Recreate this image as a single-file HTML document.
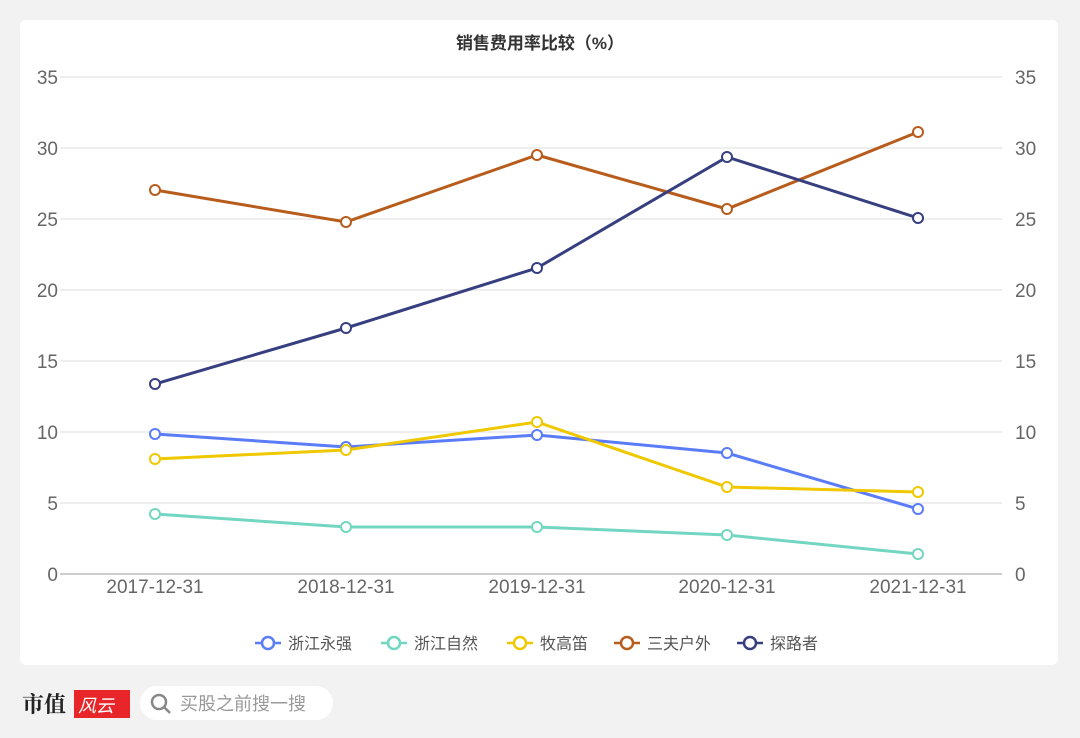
<!DOCTYPE html>
<html><head><meta charset="utf-8"><style>
html,body{margin:0;padding:0;width:1080px;height:738px;background:#f2f2f2;overflow:hidden;font-family:"Liberation Sans","Noto Sans CJK SC",sans-serif;}
</style></head><body>
<svg width="1080" height="738" xmlns="http://www.w3.org/2000/svg" font-family="Liberation Sans, Noto Sans CJK SC, sans-serif">
<rect x="0" y="0" width="1080" height="738" fill="#f2f2f2"/>
<rect x="20" y="20" width="1038" height="645" rx="6" fill="#fff"/>
<text x="540" y="49" text-anchor="middle" font-size="17" fill="#333" font-weight="bold">销售费用率比较（%）</text>
<g stroke="#e8e8e8" stroke-width="1.5">
<line x1="60" x2="1002" y1="77" y2="77"/><line x1="60" x2="1002" y1="148" y2="148"/>
<line x1="60" x2="1002" y1="219" y2="219"/><line x1="60" x2="1002" y1="290" y2="290"/>
<line x1="60" x2="1002" y1="361" y2="361"/><line x1="60" x2="1002" y1="432" y2="432"/>
<line x1="60" x2="1002" y1="503" y2="503"/>
</g>
<line x1="60" x2="1002" y1="574" y2="574" stroke="#ccc" stroke-width="2"/>
<g font-size="19" fill="#666">
<g text-anchor="end">
<text x="58" y="84">35</text><text x="58" y="155">30</text><text x="58" y="226">25</text><text x="58" y="297">20</text><text x="58" y="368">15</text><text x="58" y="439">10</text><text x="58" y="510">5</text><text x="58" y="581">0</text>
</g>
<g text-anchor="start">
<text x="1015" y="84">35</text><text x="1015" y="155">30</text><text x="1015" y="226">25</text><text x="1015" y="297">20</text><text x="1015" y="368">15</text><text x="1015" y="439">10</text><text x="1015" y="510">5</text><text x="1015" y="581">0</text>
</g>
<g text-anchor="middle">
<text x="155" y="593">2017-12-31</text><text x="346" y="593">2018-12-31</text><text x="537" y="593">2019-12-31</text><text x="727" y="593">2020-12-31</text><text x="918" y="593">2021-12-31</text>
</g>
</g>
<g fill="none" stroke-width="3">
<polyline stroke="#5b7cf8" points="155,434 346,447 537,435 727,453 918,509"/>
<polyline stroke="#72d6c0" points="155,514 346,527 537,527 727,535 918,554"/>
<polyline stroke="#f0c800" points="155,459 346,450 537,422 727,487 918,492"/>
<polyline stroke="#b85c1c" points="155,190 346,222 537,155 727,209 918,132"/>
<polyline stroke="#373f80" points="155,384 346,328 537,268 727,157 918,218"/>
</g>
<g fill="#fff" stroke-width="2">
<g stroke="#5b7cf8"><circle cx="155" cy="434" r="5"/><circle cx="346" cy="447" r="5"/><circle cx="537" cy="435" r="5"/><circle cx="727" cy="453" r="5"/><circle cx="918" cy="509" r="5"/></g>
<g stroke="#72d6c0"><circle cx="155" cy="514" r="5"/><circle cx="346" cy="527" r="5"/><circle cx="537" cy="527" r="5"/><circle cx="727" cy="535" r="5"/><circle cx="918" cy="554" r="5"/></g>
<g stroke="#f0c800"><circle cx="155" cy="459" r="5"/><circle cx="346" cy="450" r="5"/><circle cx="537" cy="422" r="5"/><circle cx="727" cy="487" r="5"/><circle cx="918" cy="492" r="5"/></g>
<g stroke="#b85c1c"><circle cx="155" cy="190" r="5"/><circle cx="346" cy="222" r="5"/><circle cx="537" cy="155" r="5"/><circle cx="727" cy="209" r="5"/><circle cx="918" cy="132" r="5"/></g>
<g stroke="#373f80"><circle cx="155" cy="384" r="5"/><circle cx="346" cy="328" r="5"/><circle cx="537" cy="268" r="5"/><circle cx="727" cy="157" r="5"/><circle cx="918" cy="218" r="5"/></g>
</g>
<g font-size="16" fill="#555" stroke-width="2.5">
<line x1="255" x2="281" y1="643" y2="643" stroke="#5b7cf8"/><circle cx="268" cy="643" r="6" fill="#fff" stroke="#5b7cf8"/><text x="288" y="649">浙江永强</text>
<line x1="381" x2="407" y1="643" y2="643" stroke="#72d6c0"/><circle cx="394" cy="643" r="6" fill="#fff" stroke="#72d6c0"/><text x="414" y="649">浙江自然</text>
<line x1="507" x2="533" y1="643" y2="643" stroke="#f0c800"/><circle cx="520" cy="643" r="6" fill="#fff" stroke="#f0c800"/><text x="540" y="649">牧高笛</text>
<line x1="614" x2="640" y1="643" y2="643" stroke="#b85c1c"/><circle cx="627" cy="643" r="6" fill="#fff" stroke="#b85c1c"/><text x="647" y="649">三夫户外</text>
<line x1="737" x2="763" y1="643" y2="643" stroke="#373f80"/><circle cx="750" cy="643" r="6" fill="#fff" stroke="#373f80"/><text x="770" y="649">探路者</text>
</g>
<text x="22" y="712" font-size="22" font-weight="bold" fill="#222" font-family="Noto Serif CJK SC, Noto Sans CJK SC, serif">市值</text>
<rect x="74" y="690" width="56" height="28" fill="#e8262a"/>
<text x="78" y="712" font-size="18" fill="#fff" font-style="italic">风云</text>
<rect x="140" y="686" width="193" height="34" rx="17" fill="#fff"/>
<circle cx="159" cy="702" r="7" fill="none" stroke="#888" stroke-width="2.5"/>
<line x1="164" y1="707" x2="170" y2="713" stroke="#888" stroke-width="2.5"/>
<text x="180" y="710" font-size="18" fill="#999">买股之前搜一搜</text>
</svg>
</body></html>
